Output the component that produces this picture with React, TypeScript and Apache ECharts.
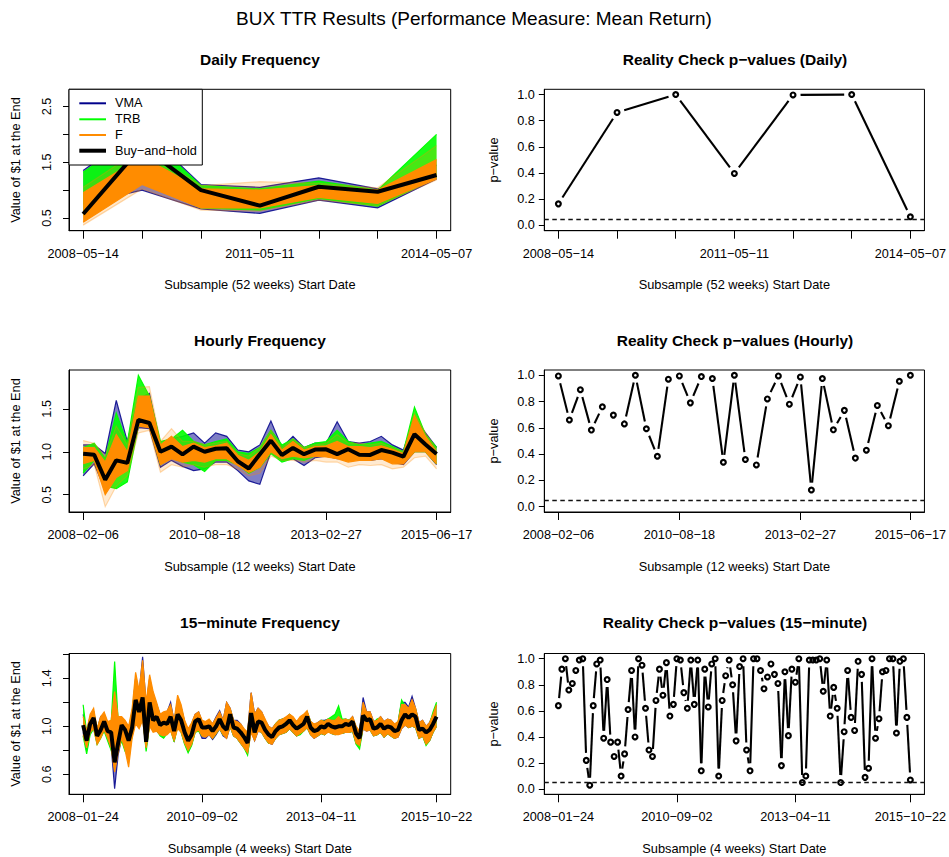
import React, { useEffect, useRef } from 'react';
import * as echarts from 'echarts';

const FONT = '"Liberation Sans", Arial, Helvetica, sans-serif';

// ---------- Daily (52-week subsamples) ----------
const dailyBuyHold = [0.57, 1.79, 1.0, 0.72, 1.06, 0.97, 1.27];
const dailyVmaLo = [0.75, 1.0, 0.66, 0.58, 0.82, 0.68, 1.2];
const dailyVmaHi = [1.35, 2.1, 1.1, 1.05, 1.22, 1.02, 1.45];
const dailyTrbLo = [0.55, 1.15, 0.68, 0.64, 0.85, 0.71, 1.22];
const dailyTrbHi = [1.32, 2.05, 1.08, 1.02, 1.16, 1.0, 2.0];
const dailyFOuterLo = [0.37, 1.02, 0.64, 0.62, 0.82, 0.72, 1.18];
const dailyFOuterHi = [1.05, 1.75, 1.08, 1.15, 1.12, 1.04, 1.8];
const dailyFLo = [0.42, 1.1, 0.68, 0.68, 0.87, 0.76, 1.2];
const dailyFHi = [0.95, 1.6, 1.02, 1.0, 1.08, 1.0, 1.55];
const dailyPValues = [0.165, 0.863, 1.0, 0.397, 0.997, 1.0, 0.066];
const dailyTickAt = [0, 1, 2, 3, 4, 5, 6];
const dailyLabelAt = [0, 3, 6];
const dailyLabels = ['2008−05−14', '2011−05−11', '2014−05−07'];

// ---------- Hourly (12-week subsamples) ----------
const hourlyBuyHold = [0.977, 0.965, 0.674, 0.9, 0.87, 1.37, 1.335, 1.0, 1.06, 0.97, 1.06, 1.0, 1.035, 1.04, 0.89, 0.805, 0.97, 1.13, 0.963, 1.045, 0.972, 1.025, 1.028, 0.972, 1.03, 0.965, 0.963, 1.02, 0.99, 0.944, 1.205, 1.085, 0.973];
const hourlyVmaLo = [0.72, 0.86, 0.55, 0.75, 0.78, 1.28, 1.27, 0.82, 0.9, 0.83, 0.78, 0.8, 0.88, 0.88, 0.78, 0.66, 0.62, 1.0, 0.9, 0.92, 0.84, 0.93, 0.95, 0.92, 0.92, 0.93, 0.9, 0.92, 0.88, 0.85, 1.0, 1.0, 0.85];
const hourlyVmaHi = [1.08, 1.08, 0.98, 1.6, 1.12, 1.62, 1.68, 1.08, 1.15, 1.18, 1.22, 1.1, 1.22, 1.18, 1.02, 1.0, 1.08, 1.36, 1.05, 1.18, 1.05, 1.1, 1.1, 1.35, 1.12, 1.1, 1.12, 1.18, 1.08, 1.02, 1.4, 1.22, 1.05];
const hourlyTrbLo = [0.75, 0.9, 0.6, 0.57, 0.65, 1.3, 1.3, 0.85, 0.93, 0.88, 0.85, 0.77, 0.9, 0.9, 0.85, 0.75, 0.82, 0.98, 0.88, 0.92, 0.9, 0.95, 0.95, 0.93, 0.93, 0.93, 0.92, 0.94, 0.9, 0.88, 1.0, 1.0, 0.86];
const hourlyTrbHi = [1.05, 1.1, 0.92, 1.45, 1.1, 1.89, 1.65, 1.12, 1.15, 1.25, 1.12, 1.08, 1.12, 1.15, 1.0, 0.98, 1.05, 1.25, 1.08, 1.15, 1.05, 1.1, 1.12, 1.25, 1.12, 1.08, 1.1, 1.12, 1.06, 1.0, 1.52, 1.2, 1.05];
const hourlyFOuterLo = [0.8, 0.85, 0.36, 0.6, 0.72, 1.22, 1.25, 0.76, 0.85, 0.82, 0.85, 0.82, 0.85, 0.85, 0.8, 0.72, 0.75, 0.95, 0.9, 0.9, 0.88, 0.9, 0.88, 0.88, 0.82, 0.85, 0.84, 0.85, 0.8, 0.82, 0.93, 0.95, 0.8];
const hourlyFOuterHi = [1.13, 1.1, 0.95, 1.3, 1.08, 1.75, 1.76, 1.12, 1.27, 1.12, 1.12, 1.08, 1.1, 1.12, 0.98, 0.95, 1.05, 1.25, 1.05, 1.15, 1.05, 1.08, 1.1, 1.2, 1.1, 1.1, 1.08, 1.1, 1.05, 1.0, 1.45, 1.22, 1.03];
const hourlyFLo = [0.86, 0.9, 0.5, 0.7, 0.78, 1.3, 1.28, 0.85, 0.92, 0.88, 0.9, 0.88, 0.92, 0.92, 0.84, 0.76, 0.82, 1.0, 0.92, 0.95, 0.93, 0.95, 0.94, 0.92, 0.88, 0.9, 0.9, 0.92, 0.86, 0.86, 1.0, 1.0, 0.86];
const hourlyFHi = [1.05, 1.05, 0.88, 1.2, 1.0, 1.65, 1.65, 1.08, 1.18, 1.06, 1.1, 1.05, 1.07, 1.1, 0.96, 0.9, 1.0, 1.2, 1.02, 1.12, 1.02, 1.06, 1.07, 1.12, 1.06, 1.06, 1.05, 1.07, 1.03, 0.98, 1.42, 1.18, 1.0];
const hourlyPValues = [0.995, 0.66, 0.89, 0.583, 0.76, 0.697, 0.63, 1.0, 0.593, 0.384, 0.97, 0.995, 0.79, 0.99, 0.975, 0.338, 1.0, 0.359, 0.318, 0.82, 0.995, 0.78, 0.987, 0.127, 0.975, 0.585, 0.733, 0.37, 0.43, 0.77, 0.616, 0.954, 1.0];
const hourlyTickAt = [0, 11, 22, 32];
const hourlyLabelAt = [0, 11, 22, 32];
const hourlyLabels = ['2008−02−06', '2010−08−18', '2013−02−27', '2015−06−17'];

// ---------- 15-minute (4-week subsamples) ----------
const min15BuyHold = [1.01, 0.88, 1.02, 1.07, 0.92, 0.97, 1.04, 0.96, 0.95, 0.7, 0.86, 1.01, 0.97, 0.88, 0.99, 1.22, 1.12, 1.24, 0.87, 1.2, 1.05, 1.08, 1.01, 1.03, 1.02, 1.08, 0.96, 1.1, 1.05, 0.95, 0.88, 0.93, 1.04, 1.06, 0.99, 0.99, 1.0, 0.96, 1.0, 1.06, 1.0, 0.97, 1.1, 0.99, 0.98, 0.95, 0.91, 0.86, 1.11, 0.95, 1.04, 1.03, 0.97, 0.93, 0.91, 0.96, 0.99, 1.0, 1.02, 1.05, 1.01, 0.98, 1.0, 1.02, 1.08, 0.99, 0.96, 0.97, 1.0, 0.99, 1.02, 1.0, 0.99, 1.0, 1.0, 1.02, 1.01, 1.04, 0.94, 0.9, 1.09, 1.05, 1.06, 0.98, 0.99, 1.02, 0.98, 1.0, 0.99, 0.96, 0.97, 1.05, 1.1, 1.07, 1.1, 1.08, 0.97, 0.98, 0.95, 0.97, 1.02, 1.08];
const min15FLo = [0.93, 0.82, 0.95, 0.98, 0.85, 0.9, 0.97, 0.9, 0.82, 0.62, 0.78, 0.9, 0.8, 0.66, 0.9, 1.02, 0.98, 1.05, 0.82, 1.0, 0.95, 0.96, 0.93, 0.92, 0.93, 0.96, 0.88, 0.98, 0.95, 0.86, 0.8, 0.85, 0.95, 0.97, 0.92, 0.91, 0.93, 0.9, 0.94, 0.98, 0.93, 0.9, 1.0, 0.92, 0.9, 0.86, 0.82, 0.78, 0.95, 0.88, 0.96, 0.95, 0.9, 0.86, 0.85, 0.9, 0.93, 0.94, 0.95, 0.98, 0.95, 0.92, 0.94, 0.96, 0.99, 0.93, 0.9, 0.92, 0.94, 0.93, 0.95, 0.94, 0.93, 0.93, 0.94, 0.95, 0.95, 0.96, 0.86, 0.84, 0.98, 0.96, 0.97, 0.92, 0.93, 0.95, 0.91, 0.94, 0.92, 0.9, 0.91, 0.98, 1.01, 0.99, 1.0, 0.99, 0.9, 0.92, 0.85, 0.88, 0.95, 1.0];
const min15FHi = [1.08, 0.96, 1.1, 1.15, 0.98, 1.08, 1.12, 1.04, 1.05, 1.29, 1.08, 1.08, 1.05, 1.0, 1.15, 1.45, 1.3, 1.55, 1.2, 1.43, 1.29, 1.2, 1.1, 1.12, 1.13, 1.18, 1.05, 1.26, 1.18, 1.05, 0.98, 1.03, 1.1, 1.12, 1.05, 1.04, 1.06, 1.02, 1.07, 1.12, 1.05, 1.2, 1.15, 1.05, 1.04, 1.02, 0.98, 0.95, 1.28, 1.1, 1.15, 1.12, 1.06, 1.0, 0.98, 1.02, 1.05, 1.06, 1.08, 1.1, 1.08, 1.04, 1.08, 1.1, 1.13, 1.04, 1.02, 1.03, 1.05, 1.04, 1.06, 1.05, 1.05, 1.08, 1.05, 1.06, 1.05, 1.08, 1.0, 0.96, 1.2, 1.12, 1.12, 1.04, 1.05, 1.08, 1.04, 1.06, 1.05, 1.02, 1.04, 1.18, 1.18, 1.15, 1.22, 1.15, 1.03, 1.05, 1.0, 1.03, 1.1, 1.18];
const min15TrbLo = [0.92, 0.77, 0.93, 0.98, 0.85, 0.9, 0.96, 0.88, 0.8, 0.7, 0.8, 0.88, 0.79, 0.75, 0.92, 1.05, 1.0, 1.1, 0.79, 1.02, 0.98, 0.97, 0.92, 0.9, 0.94, 0.97, 0.87, 1.0, 0.95, 0.85, 0.78, 0.84, 0.95, 0.96, 0.92, 0.92, 0.94, 0.9, 0.94, 0.98, 0.93, 0.92, 1.0, 0.92, 0.9, 0.86, 0.82, 0.76, 0.98, 0.9, 0.97, 0.95, 0.9, 0.86, 0.86, 0.9, 0.93, 0.94, 0.95, 0.98, 0.95, 0.92, 0.93, 0.96, 0.99, 0.93, 0.91, 0.92, 0.94, 0.93, 0.96, 0.94, 0.93, 0.94, 0.94, 0.95, 0.95, 0.96, 0.85, 0.81, 0.99, 0.97, 0.97, 0.92, 0.93, 0.95, 0.91, 0.94, 0.92, 0.9, 0.92, 0.99, 1.02, 0.99, 1.0, 0.99, 0.9, 0.92, 0.84, 0.88, 0.95, 1.0];
const min15TrbHi = [1.18, 0.95, 1.08, 1.12, 0.98, 1.06, 1.1, 1.02, 1.02, 1.54, 1.05, 1.06, 1.02, 0.98, 1.12, 1.38, 1.28, 1.45, 1.15, 1.35, 1.22, 1.18, 1.08, 1.1, 1.1, 1.15, 1.03, 1.2, 1.15, 1.03, 0.96, 1.02, 1.08, 1.1, 1.04, 1.03, 1.05, 1.01, 1.06, 1.1, 1.04, 1.15, 1.14, 1.04, 1.03, 1.0, 0.97, 0.94, 1.2, 1.08, 1.12, 1.1, 1.04, 0.99, 0.97, 1.02, 1.05, 1.06, 1.07, 1.1, 1.06, 1.03, 1.05, 1.07, 1.12, 1.04, 1.0, 1.02, 1.05, 1.04, 1.06, 1.08, 1.1, 1.17, 1.06, 1.06, 1.05, 1.07, 0.99, 0.95, 1.18, 1.1, 1.1, 1.03, 1.06, 1.07, 1.03, 1.05, 1.04, 1.0, 1.03, 1.22, 1.17, 1.14, 1.2, 1.14, 1.02, 1.04, 0.99, 1.02, 1.12, 1.2];
const min15VmaLo = [0.95, 0.8, 0.95, 1.0, 0.86, 0.92, 0.98, 0.9, 0.84, 0.48, 0.76, 0.9, 0.82, 0.78, 0.92, 1.05, 1.0, 1.08, 0.82, 1.02, 0.96, 0.96, 0.93, 0.92, 0.94, 0.98, 0.88, 1.0, 0.96, 0.86, 0.8, 0.85, 0.95, 0.97, 0.9, 0.9, 0.93, 0.89, 0.93, 0.98, 0.92, 0.9, 1.0, 0.92, 0.9, 0.86, 0.82, 0.78, 0.96, 0.88, 0.96, 0.95, 0.9, 0.86, 0.85, 0.9, 0.93, 0.94, 0.95, 0.98, 0.95, 0.92, 0.94, 0.96, 0.99, 0.93, 0.9, 0.92, 0.94, 0.93, 0.96, 0.94, 0.93, 0.94, 0.94, 0.95, 0.95, 0.96, 0.86, 0.84, 0.98, 0.96, 0.97, 0.92, 0.93, 0.95, 0.91, 0.94, 0.92, 0.9, 0.91, 0.98, 1.01, 0.99, 1.0, 0.99, 0.9, 0.92, 0.85, 0.88, 0.95, 1.0];
const min15VmaHi = [1.1, 0.95, 1.08, 1.12, 0.97, 1.08, 1.1, 1.03, 1.04, 1.1, 1.02, 1.07, 1.03, 0.98, 1.1, 1.4, 1.28, 1.58, 1.18, 1.4, 1.25, 1.18, 1.1, 1.1, 1.12, 1.2, 1.04, 1.22, 1.16, 1.04, 0.97, 1.02, 1.1, 1.12, 1.04, 1.03, 1.05, 1.02, 1.08, 1.13, 1.05, 1.2, 1.15, 1.05, 1.05, 1.02, 0.97, 0.95, 1.28, 1.1, 1.15, 1.12, 1.05, 1.0, 0.98, 1.02, 1.05, 1.06, 1.07, 1.1, 1.06, 1.04, 1.06, 1.08, 1.12, 1.04, 1.01, 1.03, 1.05, 1.05, 1.06, 1.05, 1.05, 1.06, 1.05, 1.06, 1.05, 1.08, 0.99, 0.96, 1.24, 1.12, 1.12, 1.04, 1.05, 1.08, 1.04, 1.06, 1.05, 1.01, 1.03, 1.2, 1.2, 1.16, 1.25, 1.15, 1.03, 1.05, 1.0, 1.03, 1.1, 1.18];
const min15PValues = [0.64, 0.92, 1.0, 0.76, 0.81, 0.91, 0.99, 1.0, 0.22, 0.03, 0.64, 0.96, 0.99, 0.39, 0.84, 0.36, 0.25, 0.36, 0.1, 0.27, 0.61, 0.91, 0.4, 1.0, 0.95, 0.62, 0.3, 0.25, 0.68, 0.92, 0.72, 0.97, 0.56, 0.65, 1.0, 0.99, 0.74, 0.62, 0.99, 0.65, 0.99, 0.14, 0.92, 0.63, 0.96, 1.0, 0.1, 0.68, 0.87, 0.99, 0.8, 0.37, 0.94, 1.0, 0.3, 0.14, 1.0, 1.0, 0.91, 0.77, 0.86, 0.96, 0.88, 0.81, 0.18, 0.9, 0.41, 0.92, 0.82, 1.0, 0.05, 0.1, 0.99, 0.99, 0.99, 1.0, 0.75, 0.99, 0.56, 0.78, 0.62, 0.05, 0.44, 0.91, 0.55, 0.45, 0.98, 0.88, 0.09, 0.16, 1.0, 0.39, 0.54, 0.9, 0.91, 1.0, 1.0, 0.43, 0.98, 1.0, 0.55, 0.07];
const min15TickAt = [0, 34, 68, 101];
const min15LabelAt = [0, 34, 68, 101];
const min15Labels = ['2008−01−24', '2010−09−02', '2013−04−11', '2015−10−22'];

const significanceLevel = 0.05;

const COLORS = { vma: '#00008B', trb: '#00FF00', f: '#FF8C00', bh: '#000000' };

// plot boxes [left, top, width, height]
const BOXES = [
  [69, 89.3, 381.7, 141.4],
  [544.3, 89.3, 381.4, 141.4],
  [69, 370, 381.7, 142],
  [544.3, 370, 381.4, 142],
  [69, 653.5, 381.7, 140.8],
  [544.3, 653.5, 381.4, 140.8],
];

const GAP = 7.5; // type="b" style gap around each point

function bandSeries(g: number, lo: number[], hi: number[], color: string, fillOpacity: number, edgeOpacity: number, z: number) {
  return {
    type: 'custom',
    xAxisIndex: g,
    yAxisIndex: g,
    silent: true,
    z,
    data: lo.map((v, i) => [i, v, hi[i]]),
    encode: { x: 0, y: [1, 2] },
    renderItem: (params: any, api: any) => {
      if (params.dataIndex !== 0) return null;
      const top = hi.map((v, i) => api.coord([i, v]));
      const bot = lo.map((v, i) => api.coord([i, v]));
      return {
        type: 'group',
        children: [
          { type: 'polygon', shape: { points: top.concat(bot.slice().reverse()) }, style: { fill: color, opacity: fillOpacity } },
          { type: 'polyline', shape: { points: top }, style: { stroke: color, fill: null, lineWidth: 1.2, opacity: edgeOpacity } },
          { type: 'polyline', shape: { points: bot }, style: { stroke: color, fill: null, lineWidth: 1.2, opacity: edgeOpacity } },
        ],
      };
    },
  };
}

function gappedLine(g: number, vals: number[]) {
  return {
    type: 'custom',
    xAxisIndex: g,
    yAxisIndex: g,
    silent: true,
    z: 3,
    data: vals.slice(0, -1).map((v, i) => [i, v, vals[i + 1]]),
    encode: { x: 0, y: [1, 2] },
    renderItem: (params: any, api: any) => {
      const i = api.value(0);
      const a = api.coord([i, api.value(1)]);
      const b = api.coord([i + 1, api.value(2)]);
      const dx = b[0] - a[0];
      const dy = b[1] - a[1];
      const len = Math.hypot(dx, dy);
      if (len <= 2 * GAP) return null;
      const ux = dx / len;
      const uy = dy / len;
      return {
        type: 'line',
        shape: { x1: a[0] + ux * GAP, y1: a[1] + uy * GAP, x2: b[0] - ux * GAP, y2: b[1] - uy * GAP },
        style: { stroke: '#000', lineWidth: 2.1 },
      };
    },
  };
}

function pointSeries(g: number, vals: number[]) {
  return {
    type: 'scatter',
    xAxisIndex: g,
    yAxisIndex: g,
    silent: true,
    z: 4,
    symbol: 'circle',
    symbolSize: 4.8,
    itemStyle: { color: 'rgba(0,0,0,0)', borderColor: '#000', borderWidth: 2.2, opacity: 1 },
    data: vals.map((v, i) => [i, v]),
    markLine: {
      silent: true,
      symbol: 'none',
      label: { show: false },
      lineStyle: { color: '#111', width: 1.3, type: [4.5, 3.5], opacity: 1 },
      data: [{ yAxis: significanceLevel }],
    },
  };
}

function buyHoldSeries(g: number, vals: number[]) {
  return {
    type: 'line',
    xAxisIndex: g,
    yAxisIndex: g,
    silent: true,
    z: 6,
    symbol: 'none',
    lineStyle: { color: COLORS.bh, width: 4 },
    data: vals.map((v, i) => [i, v]),
  };
}

const tickText = { fontFamily: FONT, fontSize: 12.7, color: '#000' };

function xAxis(g: number, n: number, tickAt: number[], labelAt: number[], labels: string[], name: string) {
  const pad = (n - 1) * 0.04;
  return {
    type: 'value',
    gridIndex: g,
    min: -pad,
    max: n - 1 + pad,
    name,
    nameLocation: 'middle',
    nameGap: 47.5,
    nameTextStyle: { fontFamily: FONT, fontSize: 12.8, color: '#000' },
    axisLine: { show: true, onZero: false, lineStyle: { color: '#000', width: 1 } },
    axisTick: { show: true, customValues: tickAt, length: 8, lineStyle: { color: '#000', width: 1 } },
    axisLabel: {
      ...tickText,
      customValues: labelAt,
      margin: 16.5,
      formatter: (v: number) => {
        const k = labelAt.indexOf(Math.round(v));
        return k >= 0 ? labels[k] : '';
      },
    },
    splitLine: { show: false },
  };
}

function valueYAxis(g: number, min: number, max: number, tickAt: number[], labelAt: number[], digits: number) {
  return {
    type: 'value',
    gridIndex: g,
    min,
    max,
    name: 'Value of $1 at the End',
    nameLocation: 'middle',
    nameGap: 47,
    nameTextStyle: { fontFamily: FONT, fontSize: 12.8, color: '#000' },
    axisLine: { show: true, onZero: false, lineStyle: { color: '#000', width: 1 } },
    axisTick: { show: true, customValues: tickAt, length: 6, lineStyle: { color: '#000', width: 1 } },
    axisLabel: {
      ...tickText,
      customValues: labelAt,
      rotate: 90,
      margin: 15.5,
      formatter: (v: number) => v.toFixed(digits),
    },
    splitLine: { show: false },
  };
}

function pValueYAxis(g: number) {
  const t = [0, 0.2, 0.4, 0.6, 0.8, 1.0];
  return {
    type: 'value',
    gridIndex: g,
    min: -0.04,
    max: 1.04,
    name: 'p−value',
    nameLocation: 'middle',
    nameGap: 44.5,
    nameTextStyle: { fontFamily: FONT, fontSize: 12.8, color: '#000' },
    axisLine: { show: true, onZero: false, lineStyle: { color: '#000', width: 1 } },
    axisTick: { show: true, customValues: t, length: 5.5, lineStyle: { color: '#000', width: 1 } },
    axisLabel: { ...tickText, customValues: t, margin: 9.5, formatter: (v: number) => v.toFixed(1) },
    splitLine: { show: false },
  };
}

function titleText(text: string, x: number, y: number, size: number, bold: boolean) {
  return {
    type: 'text',
    x,
    y,
    z: 100,
    style: {
      text,
      fill: '#000',
      fontFamily: FONT,
      fontSize: size,
      fontWeight: bold ? 'bold' : 'normal',
      textAlign: 'center',
      textVerticalAlign: 'middle',
    },
  };
}

function legendGraphic() {
  const items = [
    { name: 'VMA', color: COLORS.vma, width: 2, y: 103.3 },
    { name: 'TRB', color: COLORS.trb, width: 2, y: 119.3 },
    { name: 'F', color: COLORS.f, width: 2, y: 135 },
    { name: 'Buy−and−hold', color: COLORS.bh, width: 4, y: 150.7 },
  ];
  const children: any[] = [
    { type: 'rect', shape: { x: 69, y: 89.3, width: 133.3, height: 75.7 }, style: { fill: '#fff', stroke: '#000', lineWidth: 1 }, z: 100 },
  ];
  items.forEach((it) => {
    children.push({ type: 'line', shape: { x1: 79.3, y1: it.y, x2: 106, y2: it.y }, style: { stroke: it.color, lineWidth: it.width }, z: 101 });
    children.push({
      type: 'text',
      x: 115,
      y: it.y,
      z: 101,
      style: { text: it.name, fill: '#000', fontFamily: FONT, fontSize: 12.7, textAlign: 'left', textVerticalAlign: 'middle' },
    });
  });
  return children;
}

export default function App() {
  const ref = useRef<HTMLDivElement>(null);

  useEffect(() => {
    if (!ref.current) return;
    const chart = echarts.init(ref.current, undefined, { renderer: 'svg' });

    const grid = BOXES.map(([left, top, width, height]) => ({
      left,
      top,
      width,
      height,
      show: true,
      borderColor: '#000',
      borderWidth: 1,
      backgroundColor: 'transparent',
      containLabel: false,
    }));

    const xAxes = [
      xAxis(0, 7, dailyTickAt, dailyLabelAt, dailyLabels, 'Subsample (52 weeks) Start Date'),
      xAxis(1, 7, dailyTickAt, dailyLabelAt, dailyLabels, 'Subsample (52 weeks) Start Date'),
      xAxis(2, 33, hourlyTickAt, hourlyLabelAt, hourlyLabels, 'Subsample (12 weeks) Start Date'),
      xAxis(3, 33, hourlyTickAt, hourlyLabelAt, hourlyLabels, 'Subsample (12 weeks) Start Date'),
      xAxis(4, 102, min15TickAt, min15LabelAt, min15Labels, 'Subsample (4 weeks) Start Date'),
      xAxis(5, 102, min15TickAt, min15LabelAt, min15Labels, 'Subsample (4 weeks) Start Date'),
    ];

    const yAxes = [
      valueYAxis(0, 0.27, 2.81, [0.5, 1.0, 1.5, 2.0, 2.5], [0.5, 1.5, 2.5], 1),
      pValueYAxis(1),
      valueYAxis(2, 0.298, 1.953, [0.5, 1.0, 1.5], [0.5, 1.0, 1.5], 1),
      pValueYAxis(3),
      valueYAxis(4, 0.433, 1.607, [0.6, 0.8, 1.0, 1.2, 1.4, 1.6], [0.6, 1.0, 1.4], 1),
      pValueYAxis(5),
    ];

    const series: any[] = [
      // daily
      bandSeries(0, dailyVmaLo, dailyVmaHi, COLORS.vma, 0.5, 0.85, 2),
      bandSeries(0, dailyTrbLo, dailyTrbHi, COLORS.trb, 0.9, 1, 2),
      bandSeries(0, dailyFOuterLo, dailyFOuterHi, COLORS.f, 0.2, 0.3, 2),
      bandSeries(0, dailyFLo, dailyFHi, COLORS.f, 1, 1, 2),
      buyHoldSeries(0, dailyBuyHold),
      gappedLine(1, dailyPValues),
      pointSeries(1, dailyPValues),
      // hourly
      bandSeries(2, hourlyVmaLo, hourlyVmaHi, COLORS.vma, 0.5, 0.85, 2),
      bandSeries(2, hourlyTrbLo, hourlyTrbHi, COLORS.trb, 0.9, 1, 2),
      bandSeries(2, hourlyFOuterLo, hourlyFOuterHi, COLORS.f, 0.18, 0.3, 2),
      bandSeries(2, hourlyFLo, hourlyFHi, COLORS.f, 1, 1, 2),
      buyHoldSeries(2, hourlyBuyHold),
      gappedLine(3, hourlyPValues),
      pointSeries(3, hourlyPValues),
      // 15-minute
      bandSeries(4, min15VmaLo, min15VmaHi, COLORS.vma, 0.5, 0.85, 2),
      bandSeries(4, min15TrbLo, min15TrbHi, COLORS.trb, 0.9, 1, 2),
      bandSeries(4, min15FLo, min15FHi, COLORS.f, 1, 1, 2),
      buyHoldSeries(4, min15BuyHold),
      gappedLine(5, min15PValues),
      pointSeries(5, min15PValues),
    ];

    const graphic = [
      titleText('BUX TTR Results (Performance Measure: Mean Return)', 474, 18, 19, false),
      titleText('Daily Frequency', 259.9, 59.3, 15.5, true),
      titleText('Reality Check p−values (Daily)', 735, 59.3, 15.5, true),
      titleText('Hourly Frequency', 259.9, 340, 15.5, true),
      titleText('Reality Check p−values (Hourly)', 735, 340, 15.5, true),
      titleText('15−minute Frequency', 259.9, 622, 15.5, true),
      titleText('Reality Check p−values (15−minute)', 735, 622, 15.5, true),
      ...legendGraphic(),
    ];

    chart.setOption({
      animation: false,
      backgroundColor: '#fff',
      textStyle: { fontFamily: FONT },
      grid,
      xAxis: xAxes,
      yAxis: yAxes,
      series,
      graphic,
    });

    return () => chart.dispose();
  }, []);

  return <div ref={ref} style={{ position: 'absolute', left: 0, top: 0, width: 949, height: 857, background: '#fff' }} />;
}
